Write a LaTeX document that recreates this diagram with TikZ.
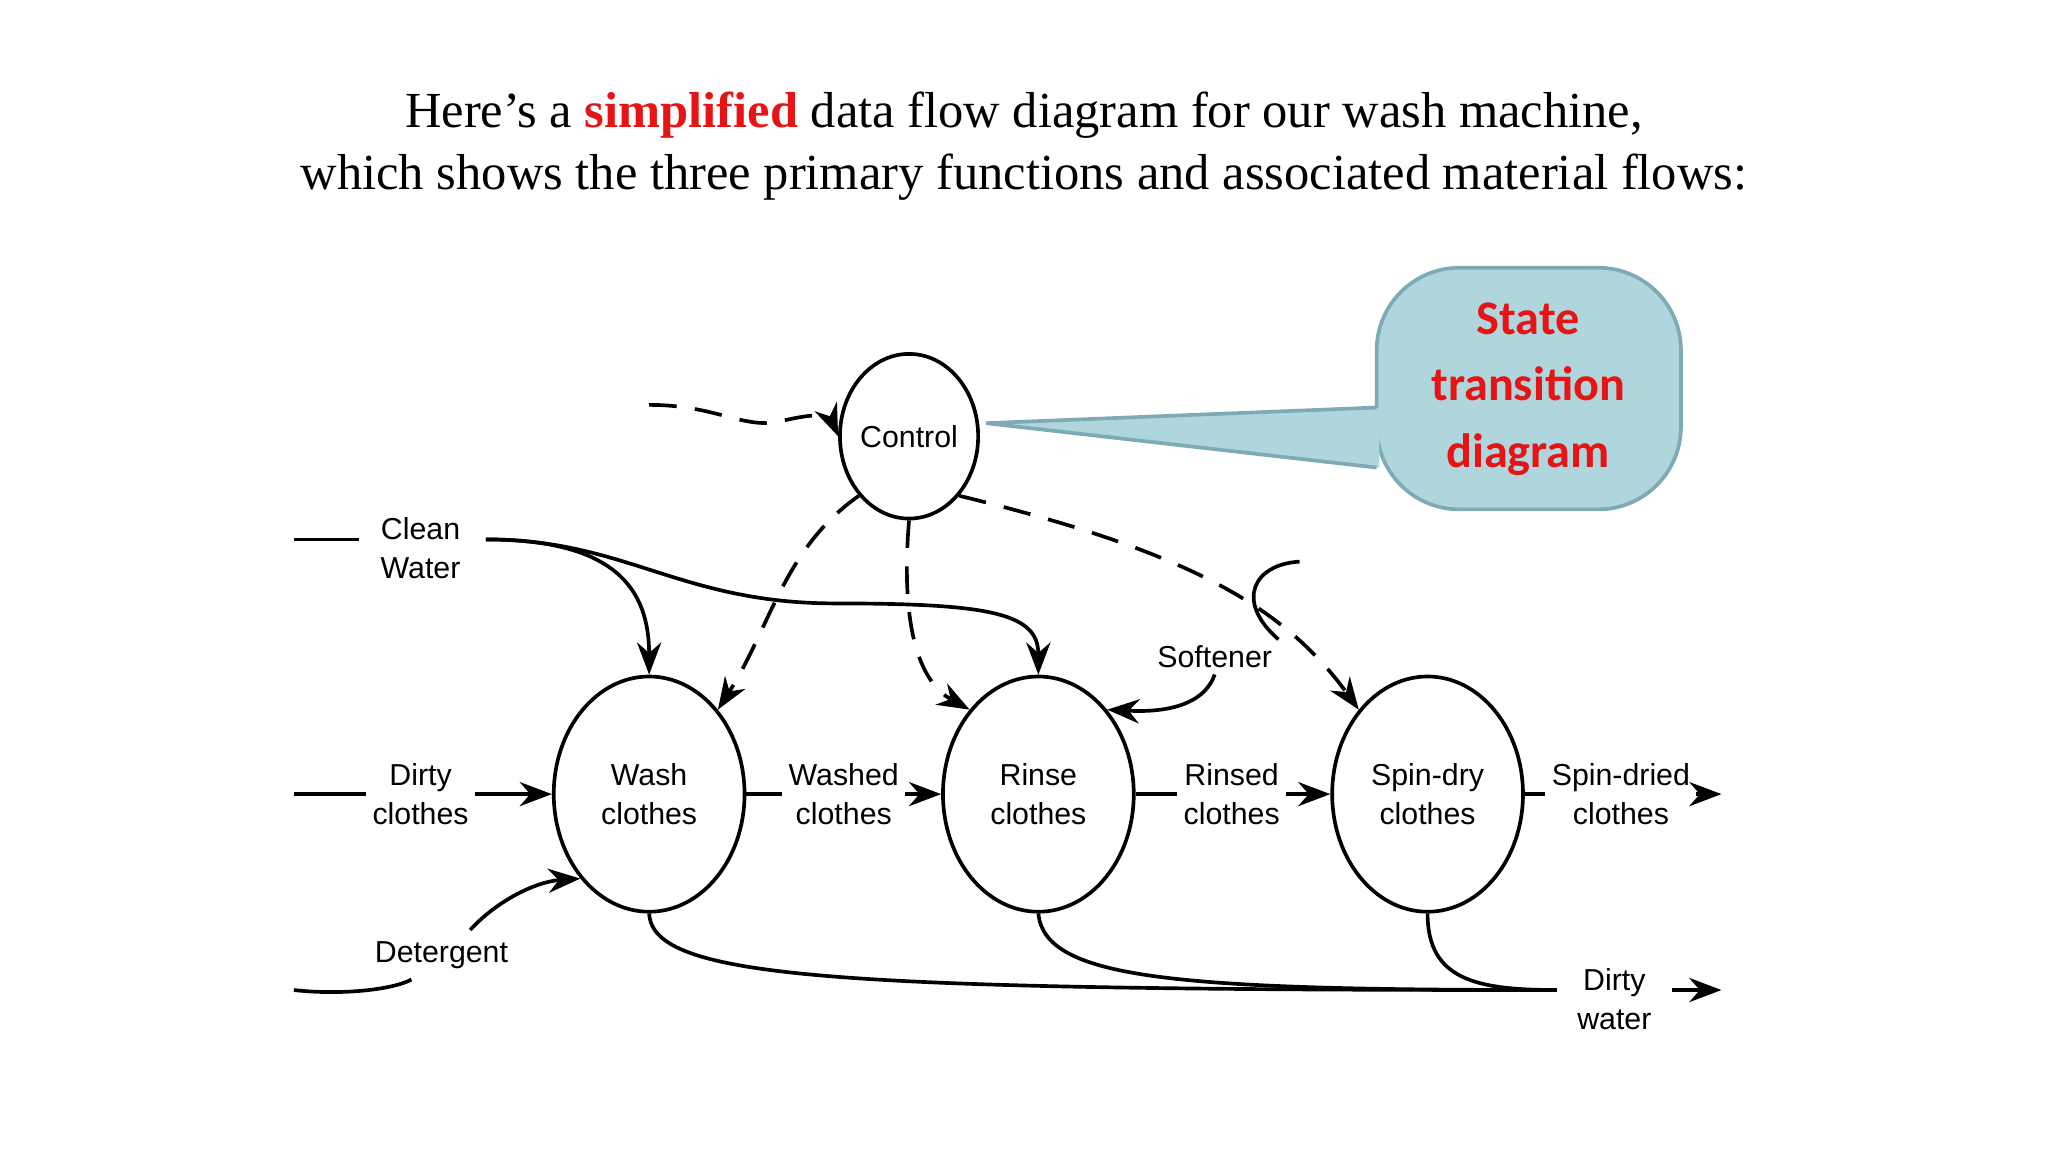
\documentclass[tikz,border=0pt]{standalone}
\usepackage{fontspec}
\setmainfont{Liberation Serif}
\newfontfamily\lsans{Liberation Sans}
\newfontfamily\carl{Carlito}
\usetikzlibrary{arrows.meta,shapes.geometric}
\definecolor{callfill}{RGB}{174,214,220}
\definecolor{calldraw}{RGB}{125,170,180}
\definecolor{hired}{RGB}{230,20,20}
\begin{document}
\begin{tikzpicture}[x=0.01cm,y=-0.01cm,thick,>={Stealth[length=7pt]}]
	\tikzstyle{process}=[ellipse,draw,inner sep=0pt,minimum width=1.46cm,minimum height=1.8cm,
		font=\lsans\fontsize{6.6}{8.5}\selectfont,align=center]
	\tikzstyle{flow}=[font=\lsans\fontsize{6.6}{8.5}\selectfont,align=center,inner sep=1pt]
	\tikzstyle{ctrl}=[->,dashed,dash pattern=on 6pt off 4pt]
	\useasboundingbox (0,0) rectangle (1568,882);
	% title
	\node[font=\fontsize{11}{13.5}\selectfont,align=center] (title) at (784,112)
		{Here's a \textcolor{hired}{\textbf{simplified}} data flow diagram for our wash machine,\\
		 which shows the three primary functions and associated material flows:};
	% callout
	\fill[callfill,draw=calldraw,rounded corners=18pt] (1054,205) rectangle (1287,390);
	\fill[callfill] (1056,312) -- (755,324) -- (1056,358) -- cycle;
	\draw[calldraw] (1054,312) -- (755,324) -- (1054,358);
	\node[font=\carl\bfseries\fontsize{10.5}{14.5}\selectfont,text=hired,align=center] (note) at (1170,298)
		{State\\transition\\diagram};
	% processes
	\node[process,minimum width=1.04cm,minimum height=1.26cm] (ctl) at (696,334) {Control};
	\node[process] (wash) at (497,608) {Wash\\clothes};
	\node[process] (rinse) at (795,608) {Rinse\\clothes};
	\node[process] (spin) at (1093,608) {Spin-dry\\clothes};
	% flow labels
	\node[flow] (water) at (322,420) {Clean\\Water};
	\node[flow] (dirty) at (322,608) {Dirty\\clothes};
	\node[flow] (deter) at (338,731) {Detergent};
	\node[flow] (washed) at (646,608) {Washed\\clothes};
	\node[flow] (rinsed) at (943,608) {Rinsed\\clothes};
	\node[flow] (dried) at (1241,608) {Spin-dried\\clothes};
	\node[flow] (soft) at (930,503) {Softener};
	\node[flow] (dwater) at (1236,765) {Dirty\\water};
	\coordinate (cwin) at (225,413);
	\coordinate (cwout) at (372,413);
	\coordinate (dcin) at (225,608);
	\coordinate (dtin) at (225,758);
	\coordinate (dtend) at (315,750);
	\coordinate (dtout) at (360,712);
	\coordinate (sfin) at (995,430);
	\coordinate (ctin) at (497,310);
	\coordinate (sdout) at (1318,608);
	\coordinate (dwstart) at (1280,758);
	\coordinate (dwout) at (1318,758);
	\coordinate (dwend) at (1192,758);
	% material flows
	\draw (cwin) -- (275,413);
	\draw[->] (cwout) .. controls (470,413) and (497,450) .. (wash.north);
	\draw[->] (cwout) .. controls (480,413) and (520,462) .. (640,462)
		.. controls (760,462) and (795,470) .. (rinse.north);
	\draw (dcin) -- (dirty.west);
	\draw[->] (dirty.east) -- (wash.west);
	\draw (dtin) .. controls (260,762) and (300,758) .. (dtend);
	\draw[->] (dtout) .. controls (380,690) and (410,675) .. (wash.south west);
	\draw (wash.east) -- (washed.west);
	\draw[->] (washed.east) -- (rinse.west);
	\draw (rinse.east) -- (rinsed.west);
	\draw[->] (rinsed.east) -- (spin.west);
	\draw (spin.east) -- (dried.west);
	\draw[->] (dried.east) -- (sdout);
	\draw (sfin) .. controls (960,432) and (945,460) .. (soft.north east);
	\draw[->] (soft.south) .. controls (920,545) and (880,545) .. (rinse.north east);
	\draw (wash.south) .. controls (500,750) and (640,758) .. (dwend);
	\draw (rinse.south) .. controls (800,750) and (900,758) .. (dwend);
	\draw (spin.south) .. controls (1093,750) and (1130,758) .. (dwend);
	\draw[->] (dwstart) -- (dwout);
	% control flows
	\draw[ctrl] (ctin) .. controls (550,310) and (570,330) .. (600,322)
		.. controls (625,316) and (635,318) .. (ctl.west);
	\draw[ctrl] (ctl.south west) .. controls (600,420) and (590,480) .. (wash.north east);
	\draw[ctrl] (ctl.south) .. controls (690,470) and (700,520) .. (rinse.north west);
	\draw[ctrl] (ctl.south east) .. controls (900,420) and (980,460) .. (spin.north west);
\end{tikzpicture}
\end{document}
